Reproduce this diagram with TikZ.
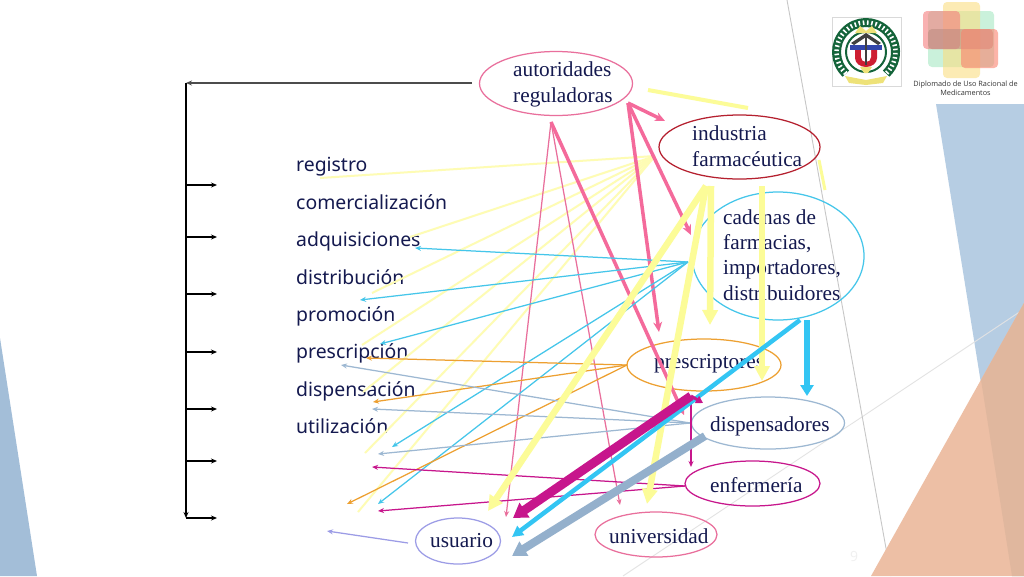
\documentclass[tikz,border=0pt]{standalone}
\usepackage{fontspec}
\setmainfont{Liberation Serif}
\newfontfamily\tahomaish{Noto Sans}
\newfontfamily\smallsans{Open Sans}
\usetikzlibrary{shapes.geometric,arrows.meta}
\definecolor{navy}{HTML}{14194F}
\definecolor{cPink}{HTML}{E96F9C}
\definecolor{cPinkB}{HTML}{F46A9B}
\definecolor{cRed}{HTML}{B5202F}
\definecolor{cCyan}{HTML}{45C6EA}
\definecolor{cCyanB}{HTML}{33C5F3}
\definecolor{cOrange}{HTML}{EDA031}
\definecolor{cGrey}{HTML}{9DB8D2}
\definecolor{cGreyB}{HTML}{94B0CC}
\definecolor{cMag}{HTML}{C7168C}
\definecolor{cPeri}{HTML}{9C9CE6}
\definecolor{cYellow}{HTML}{FEFCB4}
\definecolor{cYellowB}{HTML}{FCFC98}
\definecolor{bgL}{HTML}{A3BED8}
\definecolor{bgR}{HTML}{B6CDE3}
\definecolor{bgO}{HTML}{EDBFA5}
\definecolor{bgD}{HTML}{E0B79E}
\definecolor{crestG}{HTML}{14643A}
\definecolor{crestR}{HTML}{CD1E32}
\definecolor{crestB}{HTML}{3246AA}
\definecolor{crestY}{HTML}{EEE278}
\tikzset{
 oval/.style={ellipse,draw,line width=1.25pt,inner sep=0pt,fill=none},
 serifl/.style={text=navy,font=\fontsize{21.3}{26}\selectfont,align=left,anchor=west,inner sep=0pt},
 sansl/.style={text=navy,font=\tahomaish\fontsize{19.4}{19.4}\selectfont,anchor=base west,inner sep=0pt},
 thin arrow/.style={-{Stealth[length=6pt,width=5pt]},line width=1.25pt},
 mid arrow/.style={-{Stealth[length=10pt,width=9pt]},line width=3.5pt},
 fat arrow/.style={-{Stealth[length=15pt,width=15pt,inset=0pt]},line width=6.5pt},
 blk/.style={-{Stealth[length=6pt,width=5pt]},line width=1.1pt,black},
 logo/.style={rounded corners=4pt,opacity=.6},
}
\begin{document}
\begin{tikzpicture}[x=1pt,y=-1pt]
\useasboundingbox (0,0) rectangle (1024,576);
% backgrounds
\fill[white] (0,0) rectangle (1024,576);
\fill[bgL] (0,338) -- (37,576) -- (0,576) -- cycle;
\fill[bgR] (936,104) -- (1024,104) -- (1024,576) -- (1012,576) -- cycle;
\draw[black!11,line width=.9pt] (623,576) -- (1024,309);
\draw[black!22,line width=.9pt] (787,0) -- (891,576);
\fill[bgO] (1024,303) -- (1024,576) -- (871,576) -- cycle;
\fill[bgD] (981,380) -- (1024,303) -- (1024,576) -- (1012,576) -- cycle;
\node[text=black!6,font=\smallsans\fontsize{14}{14}\selectfont,inner sep=0pt] (pageno) at (854,556) {9};
% right logo
\fill[logo,color={rgb,255:red,168;green,232;blue,196}] (928,11) rectangle (994,67);
\fill[logo,color={rgb,255:red,250;green,222;blue,130}] (943,2) rectangle (980,78);
\fill[logo,color={rgb,255:red,245;green,125;blue,125}] (923,11) rectangle (960,49);
\fill[logo,color={rgb,255:red,190;green,140;blue,130}] (928,29) rectangle (993,49);
\fill[logo,color={rgb,255:red,250;green,130;blue,110}] (961,29) rectangle (998,68);
\node[text=black!80,font=\smallsans\fontsize{7.3}{8.6}\selectfont,align=center,inner sep=0pt] (diplo) at (965.5,88) {Diplomado de Uso Racional de\\Medicamentos};
% crest
\draw[black!15,line width=.6pt] (832,17) rectangle (901,86);
\draw[crestG,line width=9pt] (845.9,73.6) arc[start angle=133,end angle=407,radius=29.5];
\draw[white,line width=4.5pt,dash pattern=on 1.6pt off 2.6pt] (845.9,73.6) arc[start angle=133,end angle=407,radius=29.5];
\draw[crestG,line width=2pt] (866,52) circle[radius=20];
\fill[crestY] (855,33) -- (860,26) -- (866,31) -- (872,26) -- (877,33) -- cycle;
\fill[black!75] (851,43) -- (866,33) -- (881,43) -- (878,45) -- (866,37) -- (854,45) -- cycle;
\fill[crestB] (850,45) rectangle (882,50);
\fill[crestR] (855,50) -- (877,50) -- (877,58) arc[start angle=0,end angle=180,x radius=11,y radius=9] -- cycle;
\fill[white] (861,50) -- (871,50) -- (871,57) arc[start angle=0,end angle=180,x radius=5,y radius=5] -- cycle;
\fill[black!75] (865,36) rectangle (867,65);
\fill[crestY] (860,67) -- (872,67) -- (868,73) -- (864,73) -- cycle;
\fill[crestY] (845,76) -- (866,80) -- (887,76) -- (883,83) -- (866,85) -- (849,83) -- cycle;
% nodes
\node[oval,draw=cPink,minimum width=153pt,minimum height=64pt] (aut) at (556,83.5) {};
\node[oval,draw=cRed,minimum width=161pt,minimum height=64pt] (ind) at (739.5,147) {};
\node[oval,draw=cCyan,minimum width=172pt,minimum height=128pt] (cad) at (778,256) {};
\node[oval,draw=cOrange,minimum width=154pt,minimum height=52pt] (pre) at (704,365) {};
\node[oval,draw=cGrey,minimum width=153pt,minimum height=52pt] (dis) at (768,423) {};
\node[oval,draw=cMag,minimum width=135pt,minimum height=45pt] (enf) at (752.5,483.5) {};
\node[oval,draw=cPink,minimum width=122pt,minimum height=45pt] (uni) at (656,534.5) {};
\node[oval,draw=cPeri,minimum width=85pt,minimum height=46pt] (usu) at (458,541) {};
\node[serifl] (autT) at (513,84.5) {autoridades\\reguladoras};
\node[serifl] (indT) at (692,146.5) {industria\\farmacéutica};
\node[serifl,font=\fontsize{21.3}{25.4}\selectfont] (cadT) at (723,255) {cadenas de\\farmacias,\\importadores,\\distribuidores};
\node[serifl] (preT) at (654,364) {prescriptores};
\node[serifl] (disT) at (710,426) {dispensadores};
\node[serifl] (enfT) at (710,485) {enfermería};
\node[serifl] (uniT) at (609,536) {universidad};
\node[serifl] (usuT) at (430,541) {usuario};
\node[sansl] (t1) at (296,171) {registro};
\node[sansl] (t2) at (296,209) {comercialización};
\node[sansl] (t3) at (296,246) {adquisiciones};
\node[sansl] (t4) at (296,284) {distribución};
\node[sansl] (t5) at (296,321) {promoción};
\node[sansl] (t6) at (296,358) {prescripción};
\node[sansl] (t7) at (296,396) {dispensación};
\node[sansl] (t8) at (296,433) {utilización};
% bracket
\coordinate (bS) at (472,83); \coordinate (bTL) at (186,83); \coordinate (bBL) at (186,518);
\draw[blk,line width=1.3pt,black!70] (bS) -- (bTL);
\draw[blk] (bTL) -- (bBL);
\foreach \n/\yy in {a/185,b/237,c/294,d/352,e/409,f/461,g/518}{
  \coordinate (s\n) at (186,\yy); \coordinate (e\n) at (217,\yy);
  \draw[blk] (s\n) -- (e\n);
}
% thin yellow fan
\coordinate (hubY) at (655,156);
\foreach \n/\xx/\yy in {1/320/178,2/410/237,3/372/293,4/362/345,5/363/392,6/365/453,7/358/512}{
  \coordinate (y\n) at (\xx,\yy);
  \draw[cYellow,line width=2pt] (hubY) -- (y\n);
}
\coordinate (yA) at (648,90); \coordinate (yB) at (748,108);
\draw[cYellowB,line width=4pt] (yA) -- (yB);
\coordinate (yC) at (819,160); \coordinate (yD) at (825,190);
\draw[cYellowB,line width=3pt] (yC) -- (yD);
% pink
\coordinate (hubP) at (551,122);
\coordinate (p1) at (506,517); \coordinate (p2) at (620,505); \coordinate (p3) at (684,415);
\draw[thin arrow,cPink] (hubP) -- (p1);
\draw[thin arrow,cPink] (hubP) -- (p2);
\draw[mid arrow,cPinkB] (hubP) -- (p3);
\coordinate (hubQ) at (628,103);
\coordinate (q1) at (665,121); \coordinate (q2) at (691,235); \coordinate (q3) at (659,332);
\draw[mid arrow,cPinkB] (hubQ) -- (q1);
\draw[mid arrow,cPinkB] (hubQ) -- (q2);
\draw[mid arrow,cPinkB] (hubQ) -- (q3);
% cyan thin
\coordinate (hubC) at (688,262);
\foreach \n/\xx/\yy in {1/415/248,2/360/300,3/380/344,4/392/447,5/378/504}{
  \coordinate (c\n) at (\xx,\yy);
  \draw[thin arrow,cCyan] (hubC) -- (c\n);
}
% orange
\coordinate (hubO) at (627,365);
\foreach \n/\xx/\yy in {1/366/358,2/373/402,3/347/504}{
  \coordinate (o\n) at (\xx,\yy);
  \draw[thin arrow,cOrange] (hubO) -- (o\n);
}
% grey thin
\coordinate (hubG) at (690,423);
\foreach \n/\xx/\yy in {1/341/365,2/372/409,3/378/454}{
  \coordinate (g\n) at (\xx,\yy);
  \draw[thin arrow,cGrey] (hubG) -- (g\n);
}
% magenta thin
\coordinate (hubM) at (685,486);
\coordinate (m1) at (372,467); \coordinate (m2) at (378,511);
\draw[thin arrow,cMag] (hubM) -- (m1);
\draw[thin arrow,cMag] (hubM) -- (m2);
\coordinate (m3) at (691,397); \coordinate (m4) at (691,467);
\draw[thin arrow,cMag] (m3) -- (m4);
% periwinkle
\coordinate (uS) at (408,543); \coordinate (uE) at (327,531);
\draw[thin arrow,cPeri] (uS) -- (uE);
% thick yellow
\coordinate (hubZ) at (706,186);
\coordinate (z1) at (488,511); \coordinate (z2) at (647,504);
\coordinate (z3) at (711,186); \coordinate (z4) at (710,325);
\coordinate (z5) at (762,186); \coordinate (z6) at (762,381);
\draw[fat arrow,cYellowB] (hubZ) -- (z1);
\draw[fat arrow,cYellowB] (hubZ) -- (z2);
\draw[fat arrow,cYellowB] (z3) -- (z4);
\draw[fat arrow,cYellowB] (z5) -- (z6);
% thick cyan
\coordinate (k1) at (800,320); \coordinate (k2) at (512,537);
\coordinate (k3) at (807,320); \coordinate (k4) at (807,396);
\draw[-{Stealth[length=11pt,width=11pt,inset=0pt]},cCyanB,line width=4.5pt] (k1) -- (k2);
\draw[-{Stealth[length=11pt,width=13pt,inset=0pt]},cCyanB,line width=6pt] (k3) -- (k4);
% thick magenta
\coordinate (n1) at (691,396); \coordinate (n2) at (513,518); \coordinate (n3) at (703,403);
\draw[-{Stealth[length=14pt,width=17pt,inset=0pt]},cMag,line width=9pt] (n1) -- (n2);
\draw[-{Stealth[length=7pt,width=8pt,inset=0pt]},cMag,line width=3pt] (n1) -- (n3);
% thick grey
\coordinate (r1) at (705,436); \coordinate (r2) at (512,556);
\draw[-{Stealth[length=14pt,width=16pt,inset=0pt]},cGreyB,line width=8pt] (r1) -- (r2);
\end{tikzpicture}
\end{document}
